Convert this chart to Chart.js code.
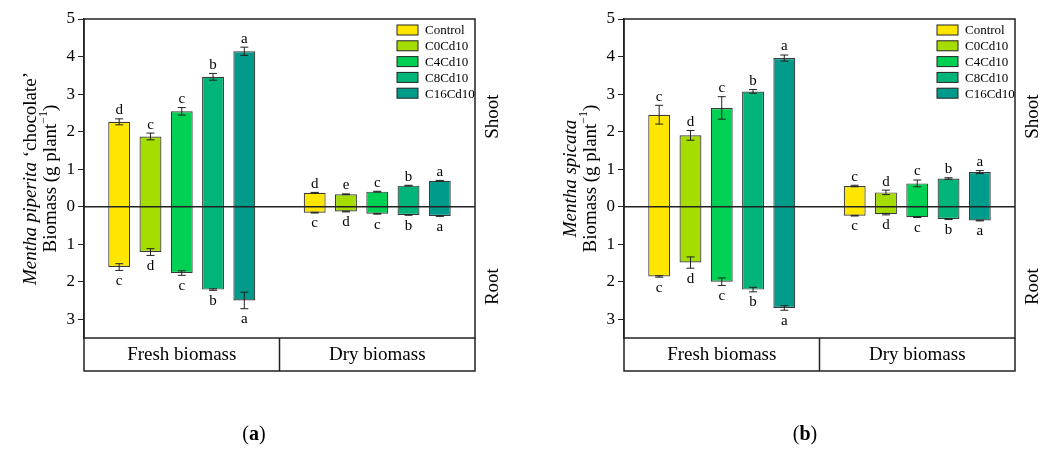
<!DOCTYPE html>
<html>
<head>
<meta charset="utf-8">
<script src="https://cdn.jsdelivr.net/npm/chart.js@4.4.1/dist/chart.umd.min.js"></script>
<style>
  body { margin: 0; background: #fff; }
  .panel { position: absolute; top: 0; }
</style>
</head>
<body>
<canvas id="chartA" class="panel" width="530" height="450" style="left:0"></canvas>
<canvas id="chartB" class="panel" width="531" height="450" style="left:530px"></canvas>
<script>
// --- Datos comunes ---
const treatments = ['Control', 'C0Cd10', 'C4Cd10', 'C8Cd10', 'C16Cd10'];
const treatmentColors = ['#FFE600', '#A6DD00', '#00D154', '#00B47A', '#009B8B'];
const biomassTypes = ['Fresh biomass', 'Dry biomass'];
const yTicks = [-3, -2, -1, 0, 1, 2, 3, 4, 5];

// --- (a) Mentha piperita 'chocolate' ---
const aFreshShoot = [2.26, 1.87, 2.54, 3.46, 4.14];
const aFreshShootErr = [0.08, 0.09, 0.10, 0.09, 0.11];
const aFreshShootLetters = ['d', 'c', 'c', 'b', 'a'];
const aFreshRoot = [1.61, 1.21, 1.77, 2.21, 2.50];
const aFreshRootErr = [0.09, 0.09, 0.06, 0.02, 0.22];
const aFreshRootLetters = ['c', 'd', 'c', 'b', 'a'];
const aDryShoot = [0.37, 0.33, 0.40, 0.56, 0.69];
const aDryShootErr = [0.01, 0.01, 0.01, 0.01, 0.01];
const aDryShootLetters = ['d', 'e', 'c', 'b', 'a'];
const aDryRoot = [0.16, 0.13, 0.19, 0.22, 0.25];
const aDryRootErr = [0.01, 0.01, 0.01, 0.01, 0.01];
const aDryRootLetters = ['c', 'd', 'c', 'b', 'a'];

// --- (b) Mentha spicata ---
const bFreshShoot = [2.45, 1.90, 2.63, 3.07, 3.96];
const bFreshShootErr = [0.25, 0.13, 0.30, 0.05, 0.08];
const bFreshShootLetters = ['c', 'd', 'c', 'b', 'a'];
const bFreshRoot = [1.86, 1.49, 2.00, 2.21, 2.70];
const bFreshRootErr = [0.02, 0.15, 0.10, 0.06, 0.06];
const bFreshRootLetters = ['c', 'd', 'c', 'b', 'a'];
const bDryShoot = [0.55, 0.38, 0.62, 0.75, 0.92];
const bDryShootErr = [0.02, 0.06, 0.09, 0.02, 0.04];
const bDryShootLetters = ['c', 'd', 'c', 'b', 'a'];
const bDryRoot = [0.24, 0.20, 0.28, 0.33, 0.37];
const bDryRootErr = [0.01, 0.02, 0.01, 0.01, 0.01];
const bDryRootLetters = ['c', 'd', 'c', 'b', 'a'];

const SERIF = "'Liberation Serif', 'Times New Roman', serif";
const INK = '#222';

// Dibuja barras de error, letras, línea de cero, recuadro, leyenda y textos
const decorPlugin = {
    id: 'decor',
    afterDatasetsDraw(chart) {
        const c = chart.ctx;
        const cfg = chart.options.plugins.decor;
        const area = chart.chartArea;
        const y = chart.scales.y;
        const x = chart.scales.x;

        // linea de cero
        c.save();
        c.strokeStyle = INK;
        c.lineWidth = 1.5;
        c.beginPath();
        c.moveTo(area.left, y.getPixelForValue(0));
        c.lineTo(area.right, y.getPixelForValue(0));
        c.stroke();

        // barras de error y letras
        c.lineWidth = 1;
        c.fillStyle = '#000';
        c.font = `15px ${SERIF}`;
        c.textAlign = 'center';
        chart.data.datasets.forEach((ds, i) => {
            const meta = chart.getDatasetMeta(i);
            meta.data.forEach((bar, j) => {
                const shoot = ds.data[j][1];
                const root = -ds.data[j][0];
                const sErr = cfg.shootErr[j][i];
                const rErr = cfg.rootErr[j][i];
                const bx = bar.x;
                const cap = 4;
                [[shoot + sErr, shoot - sErr], [-root + rErr, -root - rErr]].forEach(([hi, lo]) => {
                    const yh = y.getPixelForValue(hi);
                    const yl = y.getPixelForValue(lo);
                    c.beginPath();
                    c.moveTo(bx, yh); c.lineTo(bx, yl);
                    c.moveTo(bx - cap, yh); c.lineTo(bx + cap, yh);
                    c.moveTo(bx - cap, yl); c.lineTo(bx + cap, yl);
                    c.stroke();
                });
                c.textBaseline = 'bottom';
                c.fillText(cfg.shootLetters[j][i], bx, y.getPixelForValue(shoot + sErr) - 1);
                c.textBaseline = 'top';
                c.fillText(cfg.rootLetters[j][i], bx, y.getPixelForValue(-root - rErr) + 3);
            });
        });

        // recuadro del grafico
        c.strokeStyle = INK;
        c.lineWidth = 1.5;
        c.strokeRect(area.left, area.top, area.right - area.left, area.bottom - area.top);

        // tabla de categorias
        const tableBottom = area.bottom + 33;
        c.beginPath();
        c.moveTo(area.left, area.bottom); c.lineTo(area.left, tableBottom);
        c.lineTo(area.right, tableBottom); c.lineTo(area.right, area.bottom);
        const mid = (x.getPixelForValue(0) + x.getPixelForValue(1)) / 2;
        c.moveTo(mid, area.bottom); c.lineTo(mid, tableBottom);
        c.stroke();
        c.font = `19px ${SERIF}`;
        c.textBaseline = 'middle';
        chart.data.labels.forEach((lab, k) => {
            c.fillText(lab, x.getPixelForValue(k), area.bottom + 17);
        });

        // leyenda
        c.font = `13px ${SERIF}`;
        c.textAlign = 'left';
        c.lineWidth = 1;
        chart.data.datasets.forEach((ds, i) => {
            const ly = area.top + 11 + i * 15.8;
            const lx = area.right - 78;
            c.fillStyle = ds.backgroundColor;
            c.fillRect(lx, ly - 5, 21, 10);
            c.strokeRect(lx, ly - 5, 21, 10);
            c.fillStyle = '#000';
            c.fillText(ds.label, lx + 28, ly + 1);
        });

        // Shoot / Root
        c.font = `19px ${SERIF}`;
        c.textAlign = 'center';
        [['Shoot', 2.4], ['Root', -2.13]].forEach(([t, v]) => {
            c.save();
            c.translate(area.right + 18, y.getPixelForValue(v));
            c.rotate(-Math.PI / 2);
            c.fillText(t, 0, 0);
            c.restore();
        });

        // titulo del eje Y (dos lineas)
        const midY = (area.top + area.bottom) / 2;
        const drawParts = (parts, px) => {
            c.save();
            c.translate(px, midY);
            c.rotate(-Math.PI / 2);
            c.textAlign = 'left';
            let total = 0;
            parts.forEach(p => { c.font = p.font; total += c.measureText(p.text).width; });
            let pos = -total / 2;
            parts.forEach(p => {
                c.font = p.font;
                c.fillText(p.text, pos, p.dy || 0);
                pos += c.measureText(p.text).width;
            });
            c.restore();
        };
        const speciesParts = [{ text: cfg.species, font: `italic 19px ${SERIF}` }];
        if (cfg.cultivar) speciesParts.push({ text: cfg.cultivar, font: `19px ${SERIF}` });
        drawParts(speciesParts, area.left - 53);
        drawParts([
            { text: 'Biomass (g plant', font: `19px ${SERIF}` },
            { text: '\u22121', font: `12px ${SERIF}`, dy: -7 },
            { text: ')', font: `19px ${SERIF}` }
        ], area.left - 33);

        // etiqueta del panel
        drawPanelLabel(c, cfg.panel, cfg.labelX, 435);
        c.restore();
    }
};

function drawPanelLabel(c, letter, cx, cy) {
    const parts = [
        { text: '(', font: `20px ${SERIF}` },
        { text: letter, font: `bold 20px ${SERIF}` },
        { text: ')', font: `20px ${SERIF}` }
    ];
    c.textBaseline = 'middle';
    c.textAlign = 'left';
    let total = 0;
    parts.forEach(p => { c.font = p.font; total += c.measureText(p.text).width; });
    let pos = cx - total / 2;
    parts.forEach(p => {
        c.font = p.font;
        c.fillText(p.text, pos, cy);
        pos += c.measureText(p.text).width;
    });
}

function makeChart(canvasId, opts) {
    const datasets = treatments.map((t, i) => ({
        label: t,
        data: [[-opts.freshRoot[i], opts.freshShoot[i]], [-opts.dryRoot[i], opts.dryShoot[i]]],
        backgroundColor: treatmentColors[i],
        borderColor: '#3a3a3a',
        borderWidth: 1.2,
        borderSkipped: false,
        barPercentage: 0.7,
        categoryPercentage: 0.8
    }));
    return new Chart(document.getElementById(canvasId).getContext('2d'), {
        type: 'bar',
        data: { labels: biomassTypes, datasets },
        options: {
            responsive: false,
            animation: false,
            layout: { padding: { left: 0, right: opts.padRight, top: 19, bottom: 112 } },
            plugins: {
                legend: { display: false },
                tooltip: { enabled: false },
                decor: {
                    shootErr: [opts.freshShootErr, opts.dryShootErr],
                    rootErr: [opts.freshRootErr, opts.dryRootErr],
                    shootLetters: [opts.freshShootLetters, opts.dryShootLetters],
                    rootLetters: [opts.freshRootLetters, opts.dryRootLetters],
                    species: opts.species,
                    cultivar: opts.cultivar,
                    panel: opts.panel,
                    labelX: opts.labelX
                }
            },
            scales: {
                x: { display: false },
                y: {
                    min: -3.5,
                    max: 5,
                    afterBuildTicks: s => { s.ticks = yTicks.map(v => ({ value: v })); },
                    afterFit: s => { s.width = opts.axisWidth; },
                    ticks: {
                        callback: v => Math.abs(v),
                        font: { family: SERIF, size: 17 },
                        color: '#000',
                        padding: 3
                    },
                    grid: { drawOnChartArea: false, tickLength: 6, color: INK },
                    border: { color: INK, width: 1.5 }
                }
            }
        },
        plugins: [decorPlugin]
    });
}

makeChart('chartA', {
    freshShoot: aFreshShoot, freshShootErr: aFreshShootErr, freshShootLetters: aFreshShootLetters,
    freshRoot: aFreshRoot, freshRootErr: aFreshRootErr, freshRootLetters: aFreshRootLetters,
    dryShoot: aDryShoot, dryShootErr: aDryShootErr, dryShootLetters: aDryShootLetters,
    dryRoot: aDryRoot, dryRootErr: aDryRootErr, dryRootLetters: aDryRootLetters,
    species: 'Mentha piperita', cultivar: ' \u2018chocolate\u2019',
    panel: 'a', labelX: 254, axisWidth: 84, padRight: 55
});

makeChart('chartB', {
    freshShoot: bFreshShoot, freshShootErr: bFreshShootErr, freshShootLetters: bFreshShootLetters,
    freshRoot: bFreshRoot, freshRootErr: bFreshRootErr, freshRootLetters: bFreshRootLetters,
    dryShoot: bDryShoot, dryShootErr: bDryShootErr, dryShootLetters: bDryShootLetters,
    dryRoot: bDryRoot, dryRootErr: bDryRootErr, dryRootLetters: bDryRootLetters,
    species: 'Mentha spicata', cultivar: null,
    panel: 'b', labelX: 275, axisWidth: 94, padRight: 46
});
</script>
</body>
</html>
